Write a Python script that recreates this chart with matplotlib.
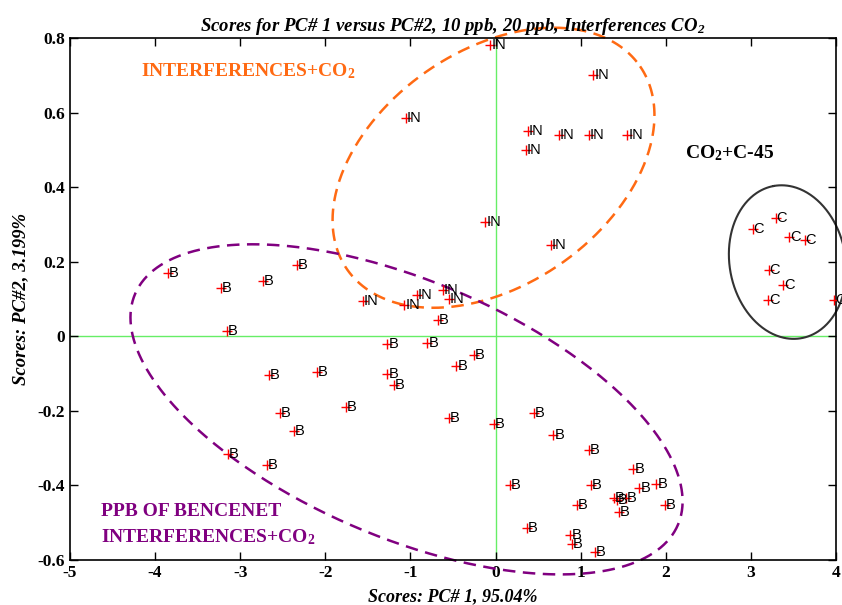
import numpy as np
import matplotlib
matplotlib.use("Agg")
import matplotlib.pyplot as plt

plt.rcParams["font.family"] = "Liberation Serif"
plt.rcParams["mathtext.fontset"] = "custom"
plt.rcParams["mathtext.rm"] = "Liberation Serif"
plt.rcParams["mathtext.bf"] = "Liberation Serif:bold"
plt.rcParams["mathtext.it"] = "Liberation Serif:italic"
plt.rcParams["mathtext.bfit"] = "Liberation Serif:italic:bold"

# scores
in_x = [-0.06, 1.15, -1.05, 0.38, 0.74, 1.10, 1.55, 0.36, -0.12, 0.65,
        -1.56, -1.07, -0.92, -0.62, -0.55]
in_y = [0.78, 0.70, 0.585, 0.55, 0.54, 0.54, 0.54, 0.50, 0.306, 0.245,
        0.094, 0.083, 0.11, 0.124, 0.10]

b_x = [-3.85, -3.23, -2.73, -2.33, -3.16, -0.68, -1.27, -0.80, -0.25, -0.46,
       -2.66, -2.10, -1.27, -1.19, -2.53, -1.76, -0.55, -0.02, -2.37, -3.14,
       -2.69, 0.45, 0.68, 1.10, 1.62, 0.17, 1.12, 1.69, 1.89, 1.39,
       1.43, 1.53, 1.45, 0.96, 1.99, 0.37, 0.88, 0.90, 1.17]
b_y = [0.17, 0.13, 0.148, 0.19, 0.013, 0.043, -0.022, -0.018, -0.05, -0.08,
       -0.105, -0.097, -0.10, -0.13, -0.207, -0.19, -0.218, -0.235, -0.255, -0.315,
       -0.345, -0.207, -0.266, -0.305, -0.357, -0.40, -0.40, -0.408, -0.397, -0.433,
       -0.438, -0.435, -0.47, -0.452, -0.452, -0.515, -0.532, -0.556, -0.578]

c_x = [3.02, 3.29, 3.45, 3.63, 3.21, 3.38, 3.20, 3.98]
c_y = [0.288, 0.317, 0.266, 0.258, 0.177, 0.137, 0.097, 0.097]

xticks = [-5, -4, -3, -2, -1, 0, 1, 2, 3, 4]
xticklabels = ["-5", "-4", "-3", "-2", "-1", "0", "1", "2", "3", "4"]
yticks = [-0.6, -0.4, -0.2, 0, 0.2, 0.4, 0.6, 0.8]
yticklabels = ["-0.6", "-0.4", "-0.2", "0", "0.2", "0.4", "0.6", "0.8"]

# elipses: centro y dos semidiámetros conjugados (unidades de datos)
elipse_in = ((-0.024, 0.452), (1.722, 0.272), (0.781, -0.259))
elipse_b = ((-1.046, -0.196), (3.19, -0.309), (-0.586, -0.317))
elipse_c = ((3.431, 0.199), (-0.1645, 0.204), (0.670, 0.0282))


def elipse(ax, params, **kw):
    (cx, cy), (ux, uy), (vx, vy) = params
    t = np.linspace(0, 2 * np.pi, 400)
    ax.plot(cx + ux * np.cos(t) + vx * np.sin(t),
            cy + uy * np.cos(t) + vy * np.sin(t), clip_on=False, **kw)


fig = plt.figure(figsize=(8.42, 6.05), dpi=100)
ax = fig.add_axes([0.0831, 0.0744, 0.9098, 0.8628])

ax.axhline(0, color="#66ee66", lw=1, zorder=1)
ax.axvline(0, color="#66ee66", lw=1, zorder=1)

for xs, ys, lab in [(in_x, in_y, "IN"), (b_x, b_y, "B"), (c_x, c_y, "C")]:
    ax.plot(xs, ys, "+", color="red", ms=7, mew=1, zorder=3)
    for x, y in zip(xs, ys):
        ax.text(x + 0.01, y, lab, ha="left", va="center", fontsize=10.5,
                family="Liberation Sans", color="black", zorder=4)

elipse(ax, elipse_in, color="#ff6a13", lw=1.8, ls=(0, (5, 3)), zorder=2)
elipse(ax, elipse_b, color="#800080", lw=1.8, ls=(0, (5, 3)), zorder=2)
elipse(ax, elipse_c, color="#333333", lw=1.5, zorder=2)

ax.text(-4.17, 0.712, "INTERFERENCES+CO$_\\mathbf{2}$", color="#ff6a13",
        fontsize=14, fontweight="bold", va="center")
ax.text(2.23, 0.49, "CO$_\\mathbf{2}$+C-45", color="black",
        fontsize=14, fontweight="bold", va="center")
ax.text(-4.64, -0.47, "PPB OF BENCENET", color="#800080",
        fontsize=14, fontweight="bold", va="center")
ax.text(-4.64, -0.538, "INTERFERENCES+CO$_\\mathbf{2}$", color="#800080",
        fontsize=14, fontweight="bold", va="center")

ax.set_xlim(-5, 4)
ax.set_ylim(-0.6, 0.8)
ax.set_xticks(xticks)
ax.set_xticklabels(xticklabels, fontsize=12.5, fontweight="bold")
ax.set_yticks(yticks)
ax.set_yticklabels(yticklabels, fontsize=12.5, fontweight="bold")
ax.tick_params(direction="in", length=6, top=True, right=True, width=1)
for s in ax.spines.values():
    s.set_linewidth(1.2)

ax.set_title("Scores for PC# 1 versus PC#2, 10 ppb, 20 ppb, Interferences CO$_\\mathbfit{2}$",
             fontsize=13.5, fontweight="bold", style="italic", pad=5)
ax.set_xlabel("Scores: PC# 1, 95.04%", fontsize=13, fontweight="bold",
              style="italic")
ax.xaxis.set_label_coords(0.5, -0.054)
ax.set_ylabel("Scores: PC#2, 3.199%", fontsize=13.5, fontweight="bold",
              style="italic", labelpad=6)

fig.savefig("out.png", dpi=100)
